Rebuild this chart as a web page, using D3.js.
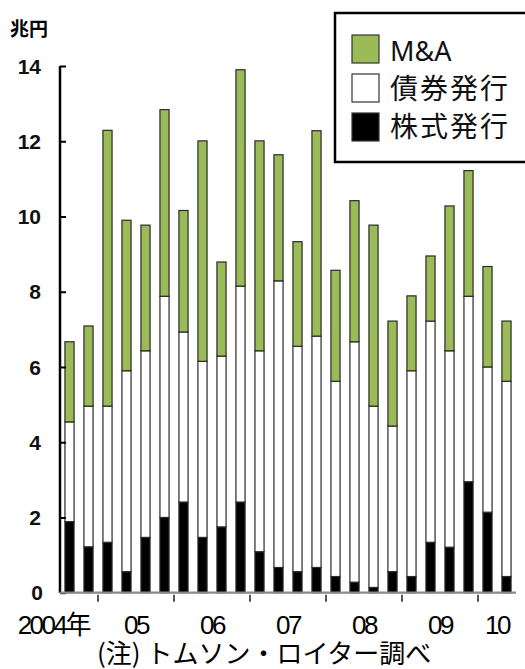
<!DOCTYPE html>
<html>
<head>
<meta charset="utf-8">
<script src="https://cdn.jsdelivr.net/npm/d3@7"></script>
<style>
  html, body { margin: 0; padding: 0; background: #fff; }
  svg { display: block; }
</style>
</head>
<body>
<div id="chart"></div>
<script>
// ---- data (兆円), quarterly 2004Q3 – 2010Q2 ----
const quarters = ["2004Q3","2004Q4",
  "2005Q1","2005Q2","2005Q3","2005Q4",
  "2006Q1","2006Q2","2006Q3","2006Q4",
  "2007Q1","2007Q2","2007Q3","2007Q4",
  "2008Q1","2008Q2","2008Q3","2008Q4",
  "2009Q1","2009Q2","2009Q3","2009Q4",
  "2010Q1","2010Q2"];
const stockIssuance = [1.89,1.22,1.34,0.56,1.47,2.00,2.41,1.47,1.75,2.41,1.09,0.67,0.56,0.67,0.43,0.28,0.14,0.56,0.43,1.34,1.21,2.95,2.14,0.43];
const bondIssuance  = [2.65,3.74,3.62,5.34,4.96,5.88,4.52,4.68,4.54,5.74,5.34,7.62,5.99,6.15,5.19,6.39,4.82,3.87,5.47,5.88,5.22,4.93,3.86,5.19];
const mna           = [2.13,2.13,7.33,4.00,3.34,4.96,3.23,5.86,2.50,5.75,5.58,3.35,2.78,5.46,2.95,3.75,4.81,2.79,1.99,1.73,3.85,3.34,2.67,1.60];
const seriesNames = ["株式発行","債券発行","M&A"];
const legendOrder = ["M&A","債券発行","株式発行"];
const yTicks = [0,2,4,6,8,10,12,14];
const years = ["2004","2005","2006","2007","2008","2009","2010"];
const yearLabels = ["2004年","05","06","07","08","09","10"];
const unitLabel = "兆円";
const noteText = "(注) トムソン・ロイター調べ";

const colors = {"株式発行":"#000000","債券発行":"#ffffff","M&A":"#9bbb59"};

const W = 525, H = 669;
const svg = d3.select("#chart").append("svg").attr("width", W).attr("height", H);

const x = d3.scaleBand().domain(quarters).range([60, 516]).paddingInner(0.52).paddingOuter(0.26);
const y = d3.scaleLinear().domain([0, 14]).range([592.7, 66]);

const rows = quarters.map((q, i) => ({q, "株式発行": stockIssuance[i], "債券発行": bondIssuance[i], "M&A": mna[i]}));
const stacked = d3.stack().keys(seriesNames)(rows);

// bars
const g = svg.append("g");
stacked.forEach(s => {
  g.selectAll(null).data(s).enter().append("rect")
    .attr("x", d => x(d.data.q))
    .attr("width", x.bandwidth())
    .attr("y", d => y(d[1]))
    .attr("height", d => y(d[0]) - y(d[1]))
    .attr("fill", colors[s.key])
    .attr("stroke", "#2a2a2a")
    .attr("stroke-width", 1.2);
});

// y axis
const yAxis = d3.axisRight(y).tickValues(yTicks).tickSize(6).tickFormat("");
const ya = svg.append("g").attr("transform", "translate(60,0)").call(yAxis);
ya.select(".domain").attr("stroke", "#000").attr("stroke-width", 2.5).attr("d", `M0,${y(14)}V${y(0)}`);
ya.selectAll(".tick line").attr("stroke", "#000").attr("stroke-width", 2);

svg.append("g").selectAll("text").data(yTicks).enter().append("text")
  .attr("x", d => d === 0 ? 43 : 41)
  .attr("y", d => y(d))
  .attr("dy", "0.36em")
  .attr("text-anchor", "end")
  .attr("font-family", "Liberation Sans, Arial, sans-serif")
  .attr("font-weight", "bold")
  .attr("font-size", 21)
  .attr("fill", "#111")
  .text(d => d);

// x baseline
svg.append("line")
  .attr("x1", 60).attr("x2", 516)
  .attr("y1", y(0)).attr("y2", y(0))
  .attr("stroke", "#8a8a8a").attr("stroke-width", 2.2);

// year group ticks & labels
const groups = years.map((yr, i) => {
  const qs = quarters.filter(q => q.startsWith(yr));
  const x0 = x(qs[0]) - x.step() * x.paddingInner() / 2;
  const x1 = x(qs[qs.length - 1]) + x.bandwidth() + x.step() * x.paddingInner() / 2;
  return {yr, label: yearLabels[i], x0, x1, c: (x0 + x1) / 2};
});
groups.slice(1).forEach(gr => {
  svg.append("line")
    .attr("x1", gr.x0).attr("x2", gr.x0)
    .attr("y1", y(0) + 2).attr("y2", y(0) + 9)
    .attr("stroke", "#222").attr("stroke-width", 1.5);
});
svg.append("g").selectAll("text").data(groups).enter().append("text")
  .attr("x", (d, i) => i === 0 ? d.c + 10 : d.c)
  .attr("y", 634)
  .attr("text-anchor", (d, i) => i === 0 ? "end" : "middle")
  .attr("font-family", "Liberation Sans, 'Noto Sans CJK JP', sans-serif")
  .attr("font-size", 26)
  .attr("letter-spacing", "-2.5px")
  .attr("fill", "#000")
  .text(d => d.label);

// unit label
svg.append("text")
  .attr("x", 10).attr("y", 36)
  .attr("font-family", "'Noto Sans CJK JP', sans-serif")
  .attr("font-weight", "bold")
  .attr("font-size", 19)
  .attr("fill", "#000")
  .text(unitLabel);

// note
svg.append("text")
  .attr("x", 97).attr("y", 663)
  .attr("font-family", "'Noto Sans CJK JP', sans-serif")
  .attr("font-size", 26)
  .attr("fill", "#000")
  .text(noteText);

// legend
const lg = svg.append("g");
lg.append("rect")
  .attr("x", 335).attr("y", 13).attr("width", 200).attr("height", 149)
  .attr("fill", "#fff").attr("stroke", "#000").attr("stroke-width", 2.5);
legendOrder.forEach((k, i) => {
  lg.append("rect")
    .attr("x", 352).attr("y", 35 + i * 39)
    .attr("width", 27).attr("height", 28)
    .attr("fill", colors[k]).attr("stroke", "#333").attr("stroke-width", 1.2);
  lg.append("text")
    .attr("x", 390).attr("y", 61 + i * 38)
    .attr("font-family", k === "M&A" ? "'Noto Sans', sans-serif" : "'Noto Sans CJK JP', sans-serif")
    .attr("font-size", k === "M&A" ? 27 : 28)
    .attr("letter-spacing", k === "M&A" ? "0px" : "2px")
    .attr("fill", "#111")
    .text(k);
});
</script>
</body>
</html>
